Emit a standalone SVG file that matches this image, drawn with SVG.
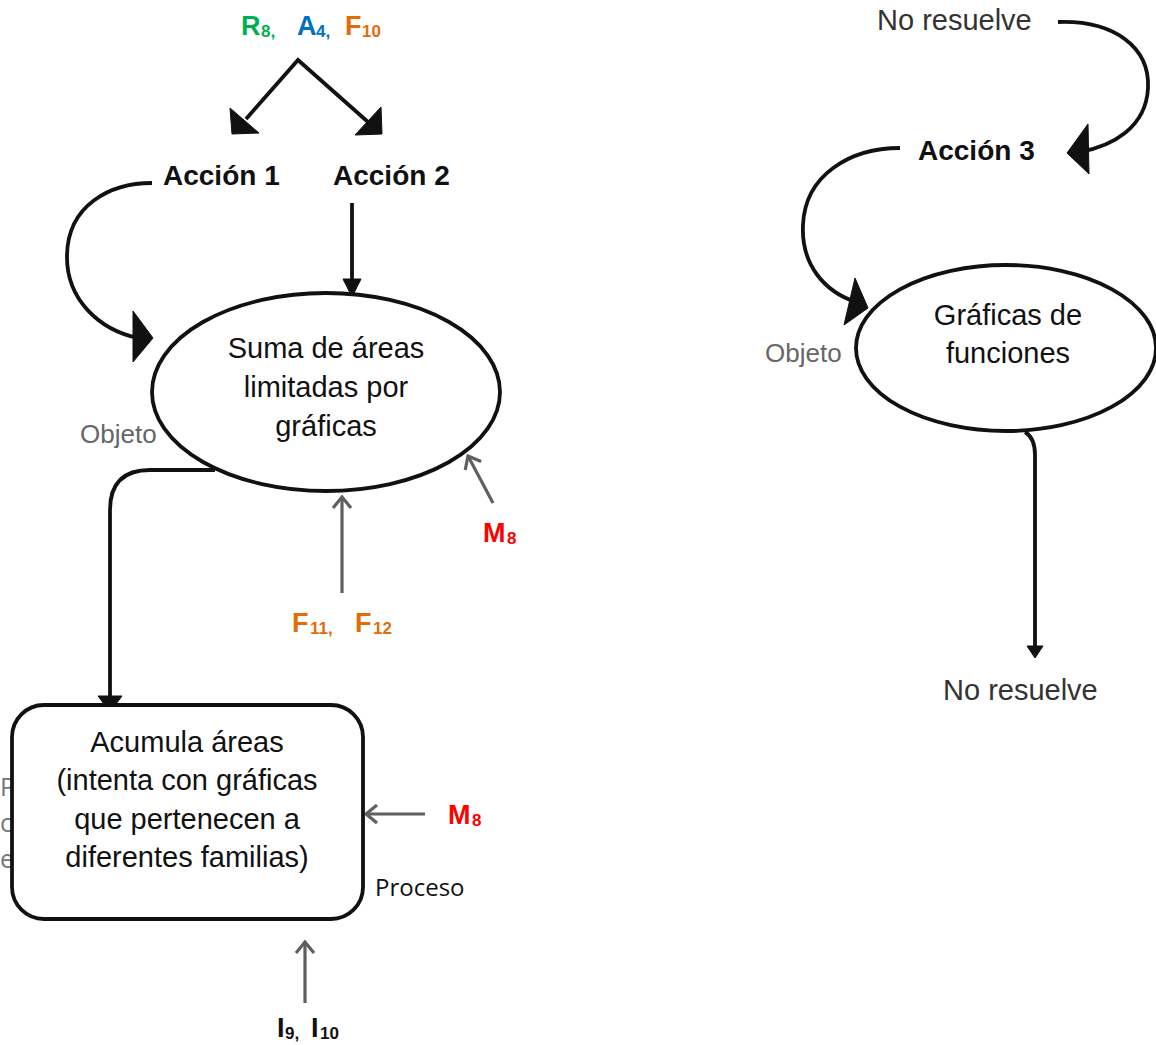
<svg xmlns="http://www.w3.org/2000/svg" width="1156" height="1045" viewBox="0 0 1156 1045">
<style>
.t{font-family:"Liberation Sans",Arial,sans-serif;}
.main{font-size:29px;fill:#111;text-anchor:middle;}
.act{font-size:28px;font-weight:bold;fill:#111;}
.obj{font-size:26px;fill:#666;}
.nr{font-size:29px;fill:#333;}
.big{font-size:27px;font-weight:bold;}
.sub{font-size:17px;font-weight:bold;}
.blk{fill:none;stroke:#111;stroke-width:3.8;}
.gry{fill:none;stroke:#5f5f5f;stroke-width:3.2;}
.head{fill:#111;stroke:#111;stroke-width:1;stroke-linejoin:round;}
.green{fill:#00B050;}
.blue{fill:#0070C0;}
.orange{fill:#E36C09;}
.red{fill:#FF0000;}
.cal{font-family:"Open Sans","Noto Sans",sans-serif;}
</style>
<defs>
<marker id="open" markerUnits="userSpaceOnUse" markerWidth="20" markerHeight="20" orient="auto" overflow="visible" refX="0" refY="0">
<path d="M-11,-9 L0,0 L-11,9" fill="none" stroke="#5f5f5f" stroke-width="3.2"/>
</marker>
</defs>
<rect width="1156" height="1045" fill="#fff"/>

<g id="hidden-left" class="cal" font-size="25" fill="#777">
<text x="0" y="796">P</text>
<text x="0" y="832">c</text>
<text x="0" y="868">e</text>
</g>

<g id="connectors">
<path class="blk" d="M246,119 L298,60 L368,122" stroke-width="4.5" stroke-linejoin="miter"/>
<polygon class="head" points="230,108 232,134 259,133"/>
<polygon class="head" points="381,107 382,134 355,135"/>
<path class="blk" d="M152,183 C110,183 68,205 67,255 C66,300 100,330 138,338"/>
<polygon class="head" points="133,311 153,338 133,362"/>
<path class="blk" d="M352,203 L352,282" stroke-width="5"/>
<polygon class="head" points="343,279 361,279 352,297"/>
<path class="blk" d="M215,470 L150,470 Q110,470 110,510 L110,697" stroke-width="4.2"/>
<polygon class="head" points="98,696 122,696 116,704 104,704"/>
<path class="gry" d="M342,593 L342,497" marker-end="url(#open)"/>
<path class="gry" d="M493,503 L468,456" marker-end="url(#open)"/>
<path class="gry" d="M425,814 L366,814" marker-end="url(#open)"/>
<path class="gry" d="M305,1003 L305,942" marker-end="url(#open)"/>
<path class="blk" d="M1058,22 C1115,20 1150,48 1148,88 C1146,128 1112,146 1080,152"/>
<polygon class="head" points="1088,124 1067,153 1089,174"/>
<path class="blk" d="M900,148 C850,148 805,175 803,225 C801,265 825,292 856,302"/>
<polygon class="head" points="855,278 844,325 868,308"/>
<path class="blk" d="M1025,432 Q1035,438 1035,455 L1035,646"/>
<polygon class="head" points="1027,646 1043,646 1035,658"/>
</g>

<g id="top-label" class="t">
<text x="241" y="35" class="big green">R</text><text x="261" y="37" class="sub green">8,</text>
<text x="297" y="35" class="big blue">A</text><text x="316" y="37" class="sub blue">4,</text>
<text x="345" y="35" class="big orange">F</text><text x="362" y="37" class="sub orange">10</text>
</g>

<g id="accion1"><text x="163" y="185" class="t act">Acción 1</text></g>
<g id="accion2"><text x="333" y="185" class="t act">Acción 2</text></g>

<g id="suma-areas">
<ellipse cx="326" cy="392" rx="174" ry="99" fill="#fff" stroke="#111" stroke-width="3.8"/>
<text class="t main" x="326" y="358">Suma de áreas</text>
<text class="t main" x="326" y="397">limitadas por</text>
<text class="t main" x="326" y="436">gráficas</text>
</g>
<g id="objeto1"><text x="80" y="443" class="t obj">Objeto</text></g>

<g id="m8-top" class="t">
<text x="483" y="542" class="big red">M</text><text x="507" y="544" class="sub red">8</text>
</g>
<g id="f11-f12" class="t">
<text x="292" y="632" class="big orange">F</text><text x="310" y="634" class="sub orange">11,</text>
<text x="355" y="632" class="big orange">F</text><text x="373" y="634" class="sub orange">12</text>
</g>

<g id="acumula-areas">
<rect x="12" y="705" width="351" height="214" rx="32" fill="#fff" stroke="#111" stroke-width="3.8"/>
<text class="t main" x="187" y="752">Acumula áreas</text>
<text class="t main" x="187" y="790">(intenta con gráficas</text>
<text class="t main" x="187" y="829">que pertenecen a</text>
<text class="t main" x="187" y="867">diferentes familias)</text>
</g>
<g id="m8-box" class="t">
<text x="448" y="824" class="big red">M</text><text x="472" y="826" class="sub red">8</text>
</g>
<g id="proceso"><text x="375" y="896" class="cal" font-size="24" fill="#111">Proceso</text></g>
<g id="i9-i10" class="t">
<text x="277" y="1037" class="big" fill="#111">I</text><text x="285" y="1039" class="sub" fill="#111">9,</text>
<text x="311" y="1037" class="big" fill="#111">I</text><text x="320" y="1039" class="sub" fill="#111">10</text>
</g>

<g id="no-resuelve-top"><text x="877" y="30" class="t nr">No resuelve</text></g>
<g id="accion3"><text x="918" y="160" class="t act">Acción 3</text></g>
<g id="graficas-funciones">
<ellipse cx="1006" cy="348" rx="150" ry="83" fill="#fff" stroke="#111" stroke-width="3.8"/>
<text class="t main" x="1008" y="325">Gráficas de</text>
<text class="t main" x="1008" y="363">funciones</text>
</g>
<g id="objeto2"><text x="765" y="362" class="t obj">Objeto</text></g>
<g id="no-resuelve-bottom"><text x="943" y="700" class="t nr">No resuelve</text></g>
</svg>
